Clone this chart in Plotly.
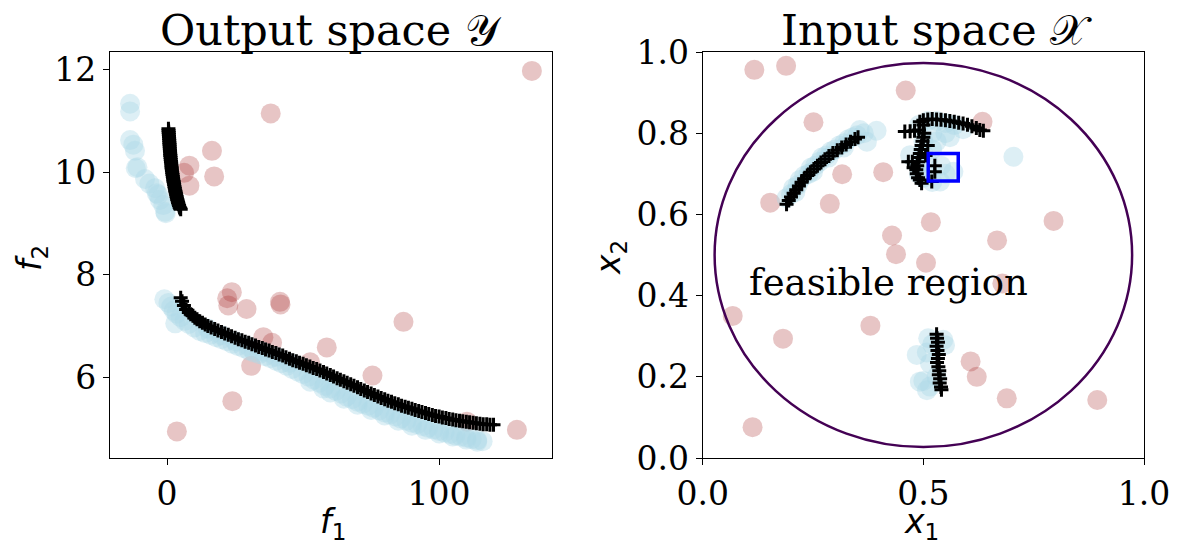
import plotly.graph_objects as go

# ---------------- Output space (f1, f2) ----------------
init_f1 = [134.1, 38.1, 16.5, 8.2, 6.25, 17.3, 8.2, 23.8, 22.1, 22.5, 29.2, 41.5,
           41.7, 86.9, 35.4, 38.6, 58.7, 30.9, 52.6, 75.5, 24.0, 3.6, 110.2, 128.6]
init_f2 = [11.98, 11.15, 10.42, 10.13, 9.99, 9.92, 9.74, 7.66, 7.54, 7.40, 7.33, 7.47,
           7.42, 7.08, 6.78, 6.67, 6.58, 6.22, 6.29, 6.03, 5.53, 4.94, 5.13, 4.97]

samp_f1 = [-13.6, -13.6, -13.6, -12.4, -11.8, -11.5, -10.9, -8.1, -6.5, -4.4, -3.8, -3.2,
           -2.6, -1.4, -0.7, -0.5,
           -1.0, 0.5, 1.5, 2.5, 3.5, 5, 6.5, 8, 10, 12, 14, 16, 18, 20, 22, 24, 26, 28,
           30, 32, 34, 36, 38, 40, 42, 44, 46, 48, 50, 52, 54, 56, 58, 60, 62, 64, 66,
           68, 70, 72, 74, 76, 78, 80, 82, 84, 86, 88, 90, 92, 94, 96, 98, 100, 102,
           104, 106, 108, 110, 112, 114, 116,
           52.6, 57.4, 3, 15, 60, 65, 70, 75, 80, 85, 90, 95, 100, 105, 110, 114,
           20, 25, 30, 35, 40, 45]
samp_f2 = [11.34, 11.19, 10.63, 10.54, 10.42, 10.08, 10.10, 9.87, 9.78, 9.69, 9.59, 9.56,
           9.46, 9.36, 9.23, 9.20,
           7.52, 7.45, 7.38, 7.30, 7.24, 7.17, 7.10, 7.04, 6.97, 6.90, 6.86, 6.83, 6.78,
           6.74, 6.70, 6.65, 6.61, 6.57, 6.52, 6.48, 6.45, 6.41, 6.37, 6.32, 6.27, 6.22,
           6.16, 6.11, 6.06, 6.01, 5.95, 5.89, 5.83, 5.78, 5.73, 5.68, 5.62, 5.57, 5.52,
           5.48, 5.44, 5.40, 5.35, 5.31, 5.27, 5.23, 5.19, 5.15, 5.11, 5.08, 5.04, 5.01,
           4.98, 4.95, 4.92, 4.89, 4.86, 4.84, 4.82, 4.79, 4.77, 4.75,
           5.91, 5.78, 7.05, 6.95, 5.70, 5.58, 5.46, 5.36, 5.25, 5.15, 5.05, 4.97, 4.90,
           4.84, 4.78, 4.74,
           6.82, 6.70, 6.60, 6.50, 6.40, 6.28]

front_f1 = [0.5, 0.55, 0.6, 0.65, 0.7, 0.75, 0.8, 0.85, 0.9, 0.95, 1.0, 1.05, 1.1, 1.15,
            1.2, 1.28, 1.35, 1.42, 1.5, 1.58, 1.65, 1.72, 1.8, 1.9, 2.0, 2.1, 2.2, 2.3,
            2.4, 2.5, 2.6, 2.72, 2.85, 2.98, 3.1, 3.22, 3.35, 3.48, 3.6, 3.75, 3.9, 4.05,
            4.2, 4.4, 4.6, 4.8, 5.0,
            5.0, 5.5, 6.2, 7.0, 8.0, 8.7, 9.5, 10.2, 11, 12, 13, 14, 15, 16.2, 17.5,
            18.7, 20, 21.2, 22.5, 23.7, 25, 26.2, 27.5, 28.7, 30, 31.2, 32.5, 33.7, 35,
            36.2, 37.5, 38.7, 40, 41.2, 42.5, 43.7, 45, 46.2, 47.5, 48.7, 50, 51.2, 52.5,
            53.7, 55, 56.2, 57.5, 58.7, 60, 61.2, 62.5, 63.7, 65, 66.2, 67.5, 68.7, 70,
            71.2, 72.5, 73.7, 75, 76.2, 77.5, 78.7, 80, 81.2, 82.5, 83.7, 85, 86.2, 87.5,
            88.7, 90, 91.2, 92.5, 93.7, 95, 96.2, 97.5, 98.7, 100, 101.2, 102.5, 103.7,
            105, 106.2, 107.5, 108.7, 110, 111.2, 112.5, 113.7, 115, 116.2, 117.5, 118.7,
            120]
front_f2 = [10.85, 10.81, 10.78, 10.74, 10.70, 10.66, 10.62, 10.58, 10.55, 10.51, 10.47,
            10.43, 10.40, 10.36, 10.33, 10.29, 10.25, 10.21, 10.18, 10.14, 10.10, 10.07,
            10.03, 9.99, 9.96, 9.92, 9.89, 9.85, 9.82, 9.79, 9.76, 9.72, 9.69, 9.65, 9.62,
            9.59, 9.56, 9.53, 9.50, 9.47, 9.44, 9.41, 9.38, 9.35, 9.32, 9.30, 9.28,
            7.55, 7.48, 7.40, 7.32, 7.26, 7.23, 7.20, 7.16, 7.13, 7.09, 7.06, 7.03, 7.00,
            6.97, 6.94, 6.91, 6.88, 6.85, 6.83, 6.80, 6.77, 6.74, 6.72, 6.69, 6.67, 6.64,
            6.62, 6.59, 6.57, 6.54, 6.52, 6.49, 6.47, 6.44, 6.42, 6.39, 6.36, 6.33, 6.31,
            6.28, 6.26, 6.23, 6.21, 6.18, 6.16, 6.13, 6.10, 6.07, 6.04, 6.01, 5.98, 5.95,
            5.92, 5.89, 5.86, 5.83, 5.80, 5.77, 5.74, 5.71, 5.68, 5.65, 5.62, 5.59, 5.57,
            5.54, 5.52, 5.49, 5.47, 5.44, 5.42, 5.40, 5.38, 5.36, 5.34, 5.32, 5.30, 5.28,
            5.26, 5.24, 5.23, 5.21, 5.20, 5.18, 5.17, 5.16, 5.15, 5.14, 5.13, 5.12, 5.11,
            5.10, 5.09, 5.08, 5.08, 5.07, 5.07]

# ---------------- Input space (x1, x2) ----------------
init_x1 = [0.117, 0.189, 0.460, 0.251, 0.634, 0.316, 0.409, 0.153, 0.288, 0.517, 0.795,
           0.429, 0.667, 0.438, 0.506, 0.679, 0.068, 0.380, 0.182, 0.607, 0.621, 0.689,
           0.894, 0.113]
init_x2 = [0.956, 0.966, 0.905, 0.827, 0.828, 0.699, 0.704, 0.629, 0.626, 0.581, 0.584,
           0.548, 0.536, 0.502, 0.481, 0.430, 0.350, 0.326, 0.294, 0.238, 0.200, 0.147,
           0.143, 0.076]

samp_x1 = [0.19, 0.20, 0.205, 0.215, 0.22, 0.23, 0.24, 0.245, 0.255, 0.265, 0.27, 0.28,
           0.29, 0.30, 0.31, 0.32, 0.33, 0.34, 0.35, 0.356, 0.372, 0.394, 0.365, 0.21,
           0.25, 0.285, 0.32,
           0.49, 0.51, 0.53, 0.55, 0.57, 0.59, 0.52, 0.55, 0.50, 0.53, 0.47, 0.50, 0.52,
           0.49, 0.51, 0.54, 0.568, 0.55, 0.50, 0.52, 0.538, 0.49, 0.704, 0.56,
           0.511, 0.545, 0.549, 0.485, 0.508, 0.515, 0.492, 0.508, 0.515, 0.53, 0.50, 0.52]
samp_x2 = [0.64, 0.65, 0.665, 0.672, 0.685, 0.695, 0.70, 0.715, 0.72, 0.73, 0.74, 0.745,
           0.755, 0.76, 0.77, 0.775, 0.785, 0.79, 0.795, 0.808, 0.779, 0.806, 0.80, 0.655,
           0.705, 0.74, 0.765,
           0.82, 0.83, 0.83, 0.825, 0.82, 0.81, 0.80, 0.80, 0.78, 0.78, 0.746, 0.75, 0.76,
           0.72, 0.73, 0.72, 0.705, 0.70, 0.69, 0.68, 0.681, 0.70, 0.742, 0.79,
           0.295, 0.291, 0.278, 0.254, 0.26, 0.233, 0.188, 0.167, 0.176, 0.20, 0.19, 0.28]

pareto_x1 = [0.190, 0.195, 0.200, 0.206, 0.212, 0.218, 0.224, 0.230, 0.237, 0.244, 0.252,
             0.260, 0.268, 0.277, 0.286, 0.295, 0.305, 0.315, 0.325, 0.335, 0.345, 0.352,
             0.492, 0.50, 0.51, 0.52, 0.53, 0.54, 0.55, 0.56, 0.57, 0.58, 0.59, 0.60,
             0.61, 0.62, 0.628, 0.636,
             0.458, 0.47, 0.48, 0.49,
             0.50, 0.502, 0.50, 0.498, 0.496, 0.494, 0.492, 0.49, 0.488, 0.486, 0.484,
             0.485, 0.488, 0.492, 0.496, 0.466, 0.475, 0.526, 0.526, 0.519, 0.505, 0.51,
             0.478,
             0.530, 0.531, 0.533, 0.530, 0.532, 0.535, 0.533, 0.531, 0.534, 0.536, 0.535,
             0.538, 0.537, 0.540, 0.541]
pareto_x2 = [0.625, 0.634, 0.643, 0.652, 0.661, 0.670, 0.679, 0.688, 0.696, 0.704, 0.712,
             0.720, 0.728, 0.736, 0.744, 0.751, 0.758, 0.765, 0.772, 0.779, 0.786, 0.790,
             0.828, 0.832, 0.834, 0.835, 0.834, 0.833, 0.832, 0.830, 0.828, 0.826, 0.824,
             0.821, 0.817, 0.813, 0.808, 0.806,
             0.804, 0.805, 0.806, 0.808,
             0.82, 0.80, 0.79, 0.78, 0.77, 0.76, 0.75, 0.74, 0.73, 0.72, 0.71,
             0.70, 0.69, 0.685, 0.677, 0.730, 0.73, 0.72, 0.705, 0.681, 0.745, 0.77,
             0.715,
             0.305, 0.295, 0.285, 0.275, 0.265, 0.255, 0.245, 0.235, 0.225, 0.215, 0.205,
             0.195, 0.185, 0.175, 0.168]

# feasible disc and highlighted query box
disc_center = (0.5, 0.5)
disc_radius = 0.473
box_center = (0.545, 0.716)
box_half = 0.034

PINK = "rgba(165,42,42,0.27)"
BLUE = "rgba(173,216,230,0.42)"
SERIF = "DejaVu Serif"
SANS = "DejaVu Sans"

fig = go.Figure()

for xs, ys, xa, ya in [(init_f1, init_f2, "x", "y"), (init_x1, init_x2, "x2", "y2")]:
    fig.add_trace(go.Scatter(x=xs, y=ys, xaxis=xa, yaxis=ya, mode="markers",
                             marker=dict(size=20, color=PINK, line=dict(width=0)),
                             showlegend=False, hoverinfo="skip"))
for xs, ys, xa, ya in [(samp_f1, samp_f2, "x", "y"), (samp_x1, samp_x2, "x2", "y2")]:
    fig.add_trace(go.Scatter(x=xs, y=ys, xaxis=xa, yaxis=ya, mode="markers",
                             marker=dict(size=20, color=BLUE, line=dict(width=0)),
                             showlegend=False, hoverinfo="skip"))
for xs, ys, xa, ya in [(front_f1, front_f2, "x", "y"), (pareto_x1, pareto_x2, "x2", "y2")]:
    fig.add_trace(go.Scatter(x=xs, y=ys, xaxis=xa, yaxis=ya, mode="markers",
                             marker=dict(symbol="cross-thin", size=10,
                                         line=dict(width=3, color="black")),
                             showlegend=False, hoverinfo="skip"))

fig.add_shape(type="circle", xref="x2", yref="y2",
              x0=disc_center[0] - disc_radius, x1=disc_center[0] + disc_radius,
              y0=disc_center[1] - disc_radius, y1=disc_center[1] + disc_radius,
              line=dict(color="#440154", width=2.5))
fig.add_shape(type="rect", xref="x2", yref="y2",
              x0=box_center[0] - box_half, x1=box_center[0] + box_half,
              y0=box_center[1] - box_half, y1=box_center[1] + box_half,
              line=dict(color="blue", width=3.5))

fig.add_annotation(text="feasible region", xref="x2", yref="y2", x=0.42, y=0.432,
                   showarrow=False, font=dict(family=SERIF, size=37, color="black"))

# subplot titles
fig.add_annotation(text="Output space 𝒴", xref="paper", yref="paper", x=0.2803, y=0.945,
                   showarrow=False, xanchor="center", yanchor="middle",
                   font=dict(family=SERIF, size=43, color="black"))
fig.add_annotation(text="Input space 𝒳", xref="paper", yref="paper", x=0.7926, y=0.945,
                   showarrow=False, xanchor="center", yanchor="middle",
                   font=dict(family=SERIF, size=43, color="black"))

# axis labels
label_font = dict(family=SANS, size=33, color="black")
label_common = dict(xref="paper", yref="paper", showarrow=False, borderpad=0,
                    xanchor="center", yanchor="middle", font=label_font)
fig.add_annotation(text="<i>f</i><sub>1</sub>", x=333 / 1181, y=1 - 523 / 548,
                   **label_common)
fig.add_annotation(text="<i>f</i><sub>2</sub>", x=31 / 1181, y=1 - 258 / 548,
                   textangle=-90, **label_common)
fig.add_annotation(text="<i>x</i><sub>1</sub>", x=921 / 1181, y=1 - 523 / 548,
                   **label_common)
fig.add_annotation(text="<i>x</i><sub>2</sub>", x=610 / 1181, y=1 - 258 / 548,
                   textangle=-90, **label_common)

axis_common = dict(showline=True, mirror=True, linecolor="black", linewidth=1,
                   ticks="outside", ticklen=6, tickwidth=1, tickcolor="black",
                   showgrid=False, zeroline=False, automargin=False,
                   tickfont=dict(family=SERIF, size=33, color="black"))

fig.update_layout(
    width=1181, height=548,
    margin=dict(l=0, r=0, t=0, b=0),
    plot_bgcolor="white", paper_bgcolor="white",
    xaxis=dict(domain=[0.0931, 0.4674], range=[-21, 141.5], tickvals=[0, 100],
               anchor="y", **axis_common),
    yaxis=dict(domain=[0.1642, 0.9051], range=[4.42, 12.35], tickvals=[6, 8, 10, 12],
               anchor="x", **axis_common),
    xaxis2=dict(domain=[0.595, 0.9687], range=[0, 1], tickvals=[0, 0.5, 1],
                ticktext=["0.0", "0.5", "1.0"], anchor="y2", **axis_common),
    yaxis2=dict(domain=[0.1642, 0.9051], range=[0, 1],
                tickvals=[0, 0.2, 0.4, 0.6, 0.8, 1.0],
                ticktext=["0.0", "0.2", "0.4", "0.6", "0.8", "1.0"], anchor="x2",
                **axis_common),
)

fig.write_html("out.html")
